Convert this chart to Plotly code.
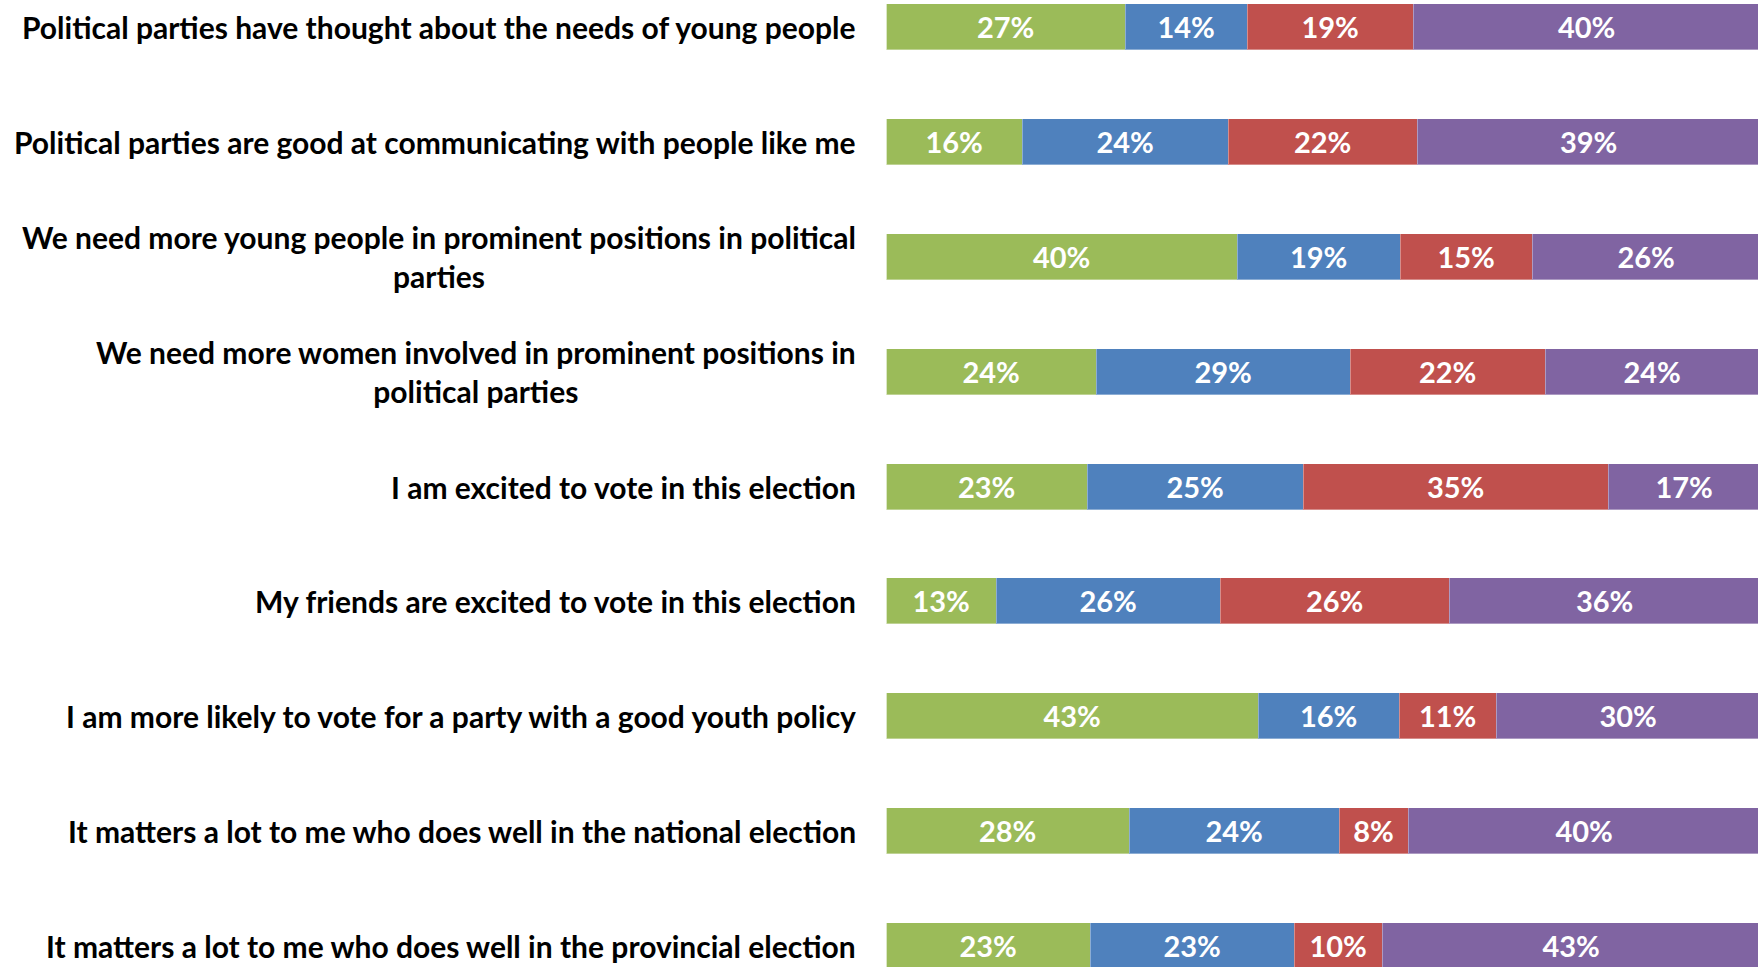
import plotly.graph_objects as go

statements = [
    "Political parties have thought about the needs of young people",
    "Political parties are good at communicating with people like me",
    "We need more young people in prominent positions in political<br>parties",
    "We need more women involved in prominent positions in<br>political parties",
    "I am excited to vote in this election",
    "My friends are excited to vote in this election",
    "I am more likely to vote for a party with a good youth policy",
    "It matters a lot to me who does well in the national election",
    "It matters a lot to me who does well in the provincial election",
]

# share of respondents per answer band (%), top row first
green_pct = [27.4, 15.6, 40.2, 24.0, 23.0, 12.6, 42.6, 27.8, 23.4]
blue_pct = [13.9, 23.6, 18.6, 29.1, 24.7, 25.6, 16.1, 24.1, 23.3]
red_pct = [19.0, 21.6, 15.2, 22.4, 34.9, 26.2, 11.1, 7.9, 10.1]
purple_pct = [39.7, 39.2, 26.0, 24.4, 17.4, 35.6, 30.2, 40.2, 43.2]

rows = list(range(len(statements)))

colors = {'green': '#9BBB59', 'blue': '#4F81BD', 'red': '#C0504D', 'purple': '#8064A2'}
LABEL_FONT = 'Lato'

fig = go.Figure()
for key, vals in [('green', green_pct), ('blue', blue_pct), ('red', red_pct), ('purple', purple_pct)]:
    fig.add_trace(go.Bar(
        x=vals, y=rows, orientation='h', width=0.4,
        marker=dict(color=colors[key], line=dict(color='rgba(255,255,255,0.35)', width=1)),
        text=[f"{v:.0f}%" for v in vals], textposition='inside', insidetextanchor='middle',
        constraintext='none', textangle=0,
        textfont=dict(family=LABEL_FONT, size=29, color='white', weight='bold'),
        showlegend=False, hoverinfo='skip'))

for r, s in zip(rows, statements):
    fig.add_annotation(
        text=s, xref='paper', yref='y', x=857.5 / 1758, y=r,
        xanchor='right', yanchor='middle', align='center', showarrow=False,
        font=dict(family=LABEL_FONT, size=30, color='black', weight='bold'))

fig.update_layout(
    width=1758, height=967, barmode='stack', bargap=0,
    margin=dict(l=0, r=0, t=0, b=0),
    plot_bgcolor='white', paper_bgcolor='white',
)
fig.update_xaxes(domain=[886.6 / 1758, 1], range=[0, 99.76], visible=False)
fig.update_yaxes(range=[8.183, -0.237], visible=False)

# page margin off so the figure sits flush with the window corner
fig.write_html("out.html", config={'displayModeBar': False},
               post_script="document.body.style.margin='0';document.body.style.overflow='hidden';")
